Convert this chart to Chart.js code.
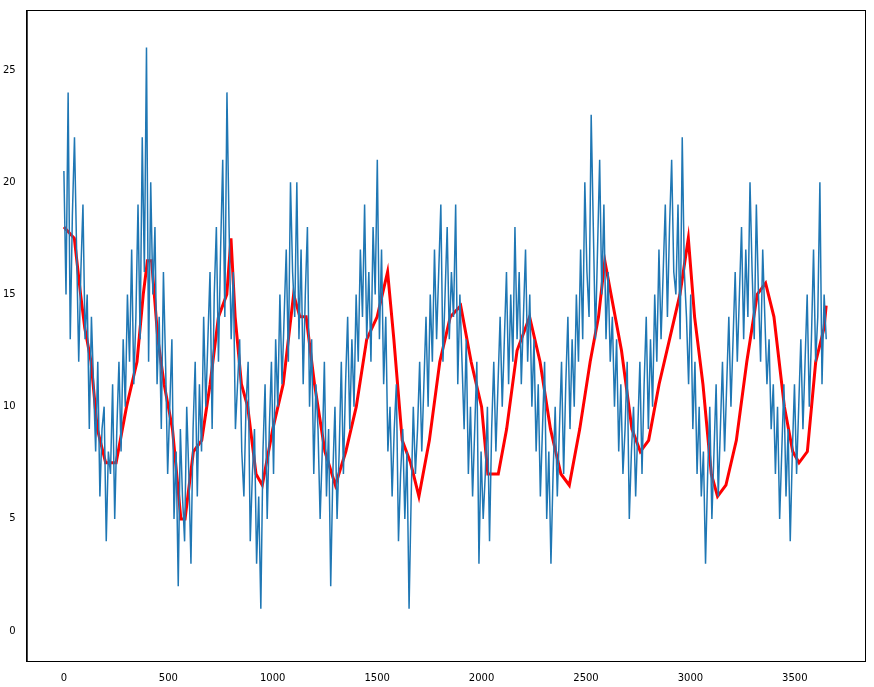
<!DOCTYPE html>
<html><head><meta charset="utf-8">
<script src="https://cdn.jsdelivr.net/npm/chart.js@4/dist/chart.umd.min.js"></script>
<style>html,body{margin:0;background:#fff}#w{width:874px;height:687px}</style>
</head><body><div id="w"><canvas id="c"></canvas></div>
<script>
const blueStep = 10.14;
const blueValues = [
20.5,15,24,13,18.5,22,17,12,16,19,13,15,9,14,11,8,12,6,9,10,4,8,7,11,5,9,12,8,13,10,15,12,17,11,14,19,13,
22,16,26,12,20,15,18,11,14,9,16,12,7,10,13,5,8,2,9,6,4,10,7,3,9,12,6,11,8,14,10,13,16,9,15,18,
12,17,21,14,24,18,13,16,9,11,13,8,6,10,12,4,7,9,3,6,1,8,11,5,9,12,7,13,10,15,11,14,17,12,20,16,
14,20,13,17,11,15,18,10,13,7,11,9,5,8,12,6,9,2,7,10,5,8,12,7,11,14,9,13,10,15,12,17,14,19,13,16,
12,18,15,21,13,17,11,14,8,10,6,9,11,4,7,9,5,8,1,6,10,7,9,12,8,11,14,10,15,12,17,13,16,19,12,15,
18,13,16,14,19,11,15,12,9,13,7,10,6,9,12,3,8,5,7,10,4,9,12,8,11,14,10,13,16,11,15,12,18,13,16,11,
14,17,12,15,10,13,8,11,6,9,12,5,8,3,7,10,6,9,12,7,11,14,9,13,10,15,12,17,13,20,16,14,23,18,13,17,
21,15,19,13,16,12,14,10,13,8,11,7,9,12,5,8,10,6,9,12,7,11,14,9,13,10,15,12,17,13,16,19,14,18,21,16,
15,19,13,22,16,14,11,15,9,12,7,10,6,8,3,7,10,5,8,11,6,9,12,8,11,14,10,13,16,12,15,18,13,17,14,20,
16,13,19,15,12,17,14,11,13,9,11,7,10,5,8,11,6,9,4,8,11,7,10,13,9,12,15,10,13,17,12,14,20,11,15,13
];
const redX = [0,50,80,100,130,160,200,250,300,350,380,400,420,450,480,520,560,580,620,660,700,740,780,800,820,850,880,920,950,1000,1050,1100,1130,1160,1200,1250,1300,1350,1400,1450,1500,1550,1580,1620,1660,1700,1750,1800,1850,1900,1950,2000,2030,2080,2120,2170,2230,2280,2330,2380,2420,2470,2520,2560,2590,2620,2670,2720,2760,2800,2850,2900,2950,2990,3020,3060,3100,3130,3170,3220,3270,3320,3360,3400,3450,3490,3520,3560,3600,3640,3650];
const redY = [18,17.5,15,13.5,12,9,7.5,7.5,10,12,15,16.5,16.5,13,11,9,5,5,8,8.5,11,14,15,17.5,14,11,10,7,6.5,9,11,15,14,14,11,8,6.5,8,10,13,14,16,13,8.5,7.5,6,8.5,12,14,14.5,12,10,7,7,9,12.5,14,12,9,7,6.5,9,12,14,16.5,15,12.5,9,8,8.5,11,13,15,17.5,14,11,7,6,6.5,8.5,12,15,15.5,14,10,8,7.5,8,12,13.5,14.5];
const xTicks = [0,500,1000,1500,2000,2500,3000,3500];
const yTicks = [0,5,10,15,20,25];

const blue = blueValues.map((v,i)=>({x:i*blueStep,y:v}));
const red = redX.map((x,i)=>({x:x,y:redY[i]}));
const frame = {id:'frame',afterDraw(c){const a=c.chartArea,g=c.ctx;g.save();g.strokeStyle='#000';g.lineWidth=1;g.strokeRect(a.left+0.5,a.top+0.5,a.right-a.left,a.bottom-a.top);g.restore();}};
new Chart(document.getElementById('c'),{
 type:'line',
 data:{datasets:[
  {data:blue,borderColor:'#1f77b4',borderWidth:1.5,pointRadius:0,tension:0},
  {data:red,borderColor:'#ff0000',borderWidth:3,pointRadius:0,tension:0}
 ]},
 plugins:[frame],
 options:{responsive:true,maintainAspectRatio:false,animation:false,
  layout:{padding:{left:0,right:9,top:10,bottom:0}},
  plugins:{legend:{display:false},tooltip:{enabled:false}},
  scales:{
   x:{type:'linear',min:-178,max:3836,grid:{display:false},border:{color:'#000'},
      afterBuildTicks(s){s.ticks=xTicks.map(v=>({value:v}));},
      ticks:{color:'#000',font:{family:'DejaVu Sans',size:10},maxRotation:0,callback:v=>String(v)}},
   y:{min:-1.33,max:27.67,grid:{display:false},border:{color:'#000'},
      afterBuildTicks(s){s.ticks=yTicks.map(v=>({value:v}));},
      ticks:{color:'#000',font:{family:'DejaVu Sans',size:10},callback:v=>String(v)}}
  }}
});
</script></body></html>
